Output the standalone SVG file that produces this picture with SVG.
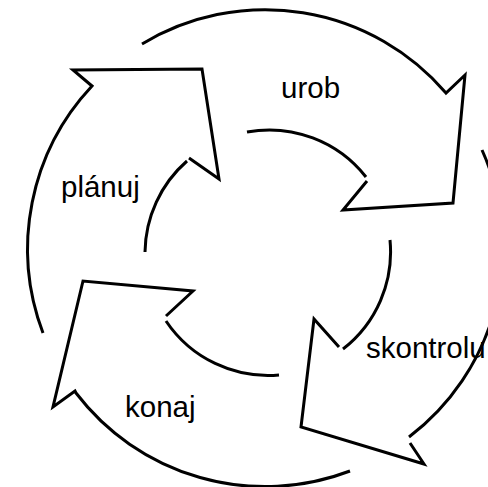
<svg xmlns="http://www.w3.org/2000/svg" width="488" height="487" viewBox="0 0 488 487">
<style>
.arrow{fill:none;stroke:#000;stroke-width:3;stroke-linejoin:miter;stroke-linecap:butt}
.lbl{font-family:"Liberation Sans",Arial,sans-serif;font-size:29.5px;fill:#000}
</style>
<rect width="488" height="487" fill="#fff"/>
<g id="planuj">
<path class="arrow" d="M43,333 A238,238 0 0 1 92,86 L73,70 L202,69 L219,179 L189,158 M187,161 A123,123 0 0 0 145,252"/>
<text class="lbl" x="61" y="197">plánuj</text>
</g>
<g id="urob">
<path class="arrow" d="M142,44 A238,238 0 0 1 446,93 L465,75 L453,203 L343,210 L367,181 M366,177 A123,123 0 0 0 247,132"/>
<text class="lbl" x="281" y="98">urob</text>
</g>
<g id="skontroluj">
<path class="arrow" d="M482,150 A238,238 0 0 1 409,437 M410,443 L424,464 L301,427 L314,319 L339,347 M343,349 A123,123 0 0 0 390,240"/>
<text class="lbl" x="366" y="358">skontrolu</text>
</g>
<g id="konaj">
<path class="arrow" d="M350,471 A238,238 0 0 1 76,393 L75,391 L53,407 L83,281 L193,291 L166,316 M166,321 A123,123 0 0 0 279,375"/>
<text class="lbl" x="125" y="417">konaj</text>
</g>
</svg>
